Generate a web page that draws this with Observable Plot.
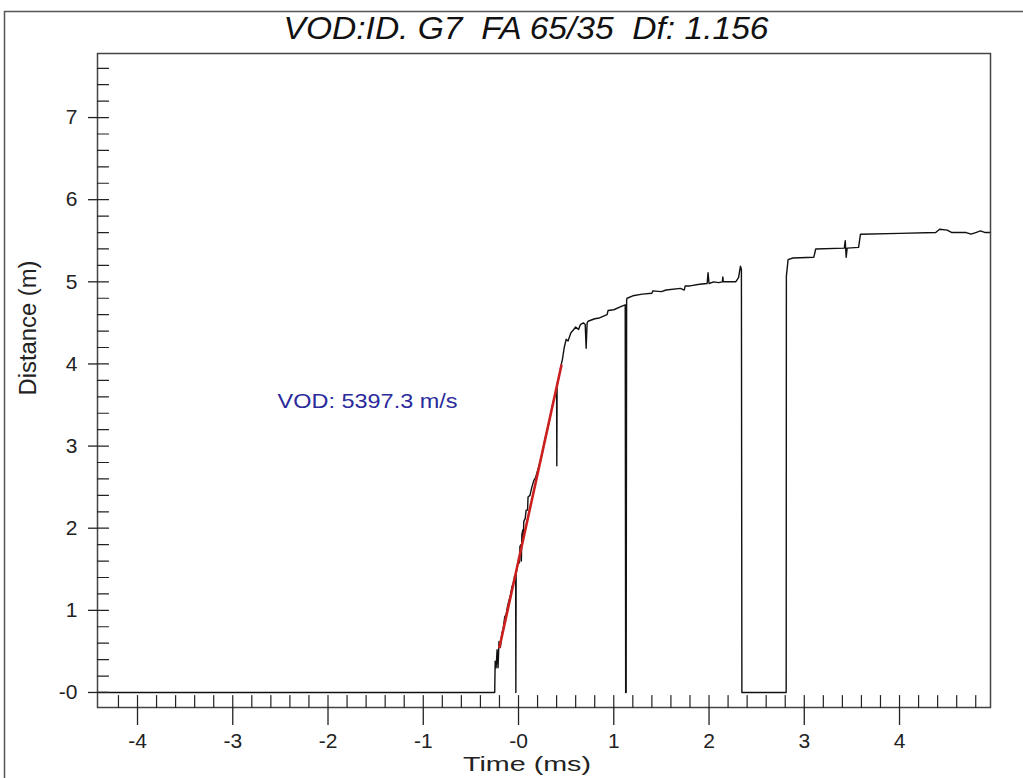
<!DOCTYPE html>
<html><head><meta charset="utf-8">
<script src="https://cdn.jsdelivr.net/npm/d3@7"></script>
<script src="https://cdn.jsdelivr.net/npm/@observablehq/plot@0.6"></script>
<style>
body{margin:0;background:#fff}
svg text{white-space:pre}
</style>
</head><body><div id="chart"></div>
<script>
// ---- texts ----
const titleText = "VOD:ID. G7  FA 65/35  Df: 1.156";
const xLabel = "Time (ms)";
const yLabel = "Distance (m)";

// ---- axes ----
const xDomain = [-4.42, 4.955];
const yDomain = [-0.183, 7.78];
const xMajor = [-4, -3, -2, -1, 0, 1, 2, 3, 4];
const yMajor = [0, 1, 2, 3, 4, 5, 6, 7];
const xMinor = d3.range(-42, 49, 2).map(d => d / 10);
const yMinor = d3.range(0, 77, 2).map(d => d / 10);

// ---- measured trace (time in ms, distance in m) ----
const traceTime = [
  -4.42, -0.25, -0.245, -0.235, -0.225, -0.215, -0.205, -0.19, -0.175, -0.16,
  -0.145, -0.13, -0.115, -0.10, -0.085, -0.07, -0.055, -0.04, -0.03, -0.028,
  -0.025, -0.01, 0.0, 0.01, 0.015, 0.025, 0.03, 0.035, 0.045, 0.05,
  0.055, 0.07, 0.08, 0.095, 0.10, 0.12, 0.14, 0.16, 0.18, 0.20,
  0.22, 0.25, 0.28, 0.30, 0.33, 0.36, 0.39, 0.40, 0.402, 0.405,
  0.43, 0.45, 0.46, 0.48, 0.50, 0.52, 0.55, 0.58, 0.60, 0.63,
  0.65, 0.68, 0.70, 0.71, 0.72, 0.73, 0.80, 0.85, 0.93, 0.94,
  1.00, 1.08, 1.12, 1.125, 1.13, 1.135, 1.14, 1.20, 1.30, 1.40,
  1.41, 1.50, 1.55, 1.70, 1.74, 1.75, 1.80, 1.90, 1.98, 1.99,
  2.00, 2.05, 2.10, 2.14, 2.145, 2.15, 2.20, 2.28, 2.31, 2.33,
  2.34, 2.345, 2.81, 2.812, 2.83, 2.88, 3.10, 3.12, 3.42, 3.43,
  3.44, 3.45, 3.57, 3.59, 4.00, 4.38, 4.42, 4.50, 4.55, 4.70,
  4.75, 4.80, 4.85, 4.90, 4.955
];
const traceDist = [
  0.0, 0.0, 0.38, 0.30, 0.52, 0.30, 0.62, 0.55, 0.72, 0.78,
  0.92, 0.95, 1.05, 1.12, 1.18, 1.28, 1.33, 1.42, 1.40, 0.0,
  1.45, 1.55, 1.62, 1.58, 1.78, 1.80, 1.60, 1.92, 1.98, 1.85,
  2.08, 2.12, 2.22, 2.22, 2.38, 2.40, 2.50, 2.58, 2.62, 2.70,
  2.78, 2.92, 3.10, 3.18, 3.35, 3.52, 3.65, 3.70, 2.76, 3.74,
  3.88, 4.00, 4.05, 4.20, 4.30, 4.28, 4.38, 4.42, 4.45, 4.42,
  4.48, 4.50, 4.48, 4.19, 4.50, 4.52, 4.55, 4.56, 4.60, 4.65,
  4.66, 4.70, 4.72, 0.0, 0.0, 4.78, 4.80, 4.83, 4.85, 4.86,
  4.89, 4.88, 4.90, 4.92, 4.90, 4.95, 4.95, 4.97, 4.98, 5.11,
  4.98, 5.00, 4.99, 5.00, 5.06, 5.00, 5.00, 5.00, 5.05, 5.19,
  5.15, 0.0, 0.0, 5.07, 5.27, 5.29, 5.30, 5.40, 5.41, 5.50,
  5.30, 5.41, 5.42, 5.58, 5.59, 5.60, 5.64, 5.63, 5.60, 5.60,
  5.58, 5.60, 5.62, 5.60, 5.60
];

// ---- VOD fit line ----
const fitTime = [-0.20, 0.45];
const fitDist = [0.55, 3.98];

// ---- annotation ----
const annotText = ["VOD: 5397.3 m/s"];
const annotTime = [-2.53];
const annotDist = [3.55];

const trace = traceTime.map((t, i) => ({t, d: traceDist[i]}));
const fit = fitTime.map((t, i) => ({t, d: fitDist[i]}));
const annot = annotText.map((s, i) => ({s, t: annotTime[i], d: annotDist[i]}));

const tickUp = {draw(ctx, l) { ctx.moveTo(0, 0); ctx.lineTo(0, -l); }};
const fmt = d => d === 0 ? "-0" : String(d);
const ink = "#222";

const chart = Plot.plot({
  width: 1023,
  height: 778,
  marginLeft: 97,
  marginRight: 33,
  marginTop: 53,
  marginBottom: 71,
  style: {fontFamily: "'Liberation Sans', Arial, sans-serif", fontSize: "21px", background: "#fff", color: ink},
  x: {domain: xDomain, axis: null},
  y: {domain: yDomain, axis: null},
  marks: [
    Plot.line(trace, {x: "t", y: "d", stroke: "#111", strokeWidth: 1.4}),
    Plot.line(fit, {x: "t", y: "d", stroke: "#cc2020", strokeWidth: 2.6}),
    Plot.text(annot, {x: "t", y: "d", text: "s", textAnchor: "start", fill: "#2b2b9c", fontSize: 21}),
    Plot.frame({stroke: "#444", strokeWidth: 1.5}),
    // inward ticks
    Plot.vector(xMinor, {x: d => d, frameAnchor: "bottom", length: 12, anchor: "start", shape: tickUp, stroke: ink, strokeWidth: 1.2}),
    Plot.vector(yMinor, {y: d => d, frameAnchor: "left", length: 11, rotate: 90, anchor: "start", shape: tickUp, stroke: ink, strokeWidth: 1.2}),
    // outward ticks + labels
    Plot.axisX({ticks: xMajor, tickSize: 18, tickPadding: 8, tickFormat: fmt, fontSize: 21, label: null, stroke: ink, strokeWidth: 1.3, fill: ink}),
    Plot.axisY({ticks: yMajor, tickSize: 9, tickPadding: 11, tickFormat: fmt, fontSize: 21, label: null, stroke: ink, strokeWidth: 1.3, fill: ink}),
    // titles
    Plot.text([titleText], {text: d => d, frameAnchor: "top", lineAnchor: "middle", dx: -18, dy: -24, fontSize: 31, fontStyle: "italic", fill: "#111"}),
    Plot.text([xLabel], {text: d => d, frameAnchor: "bottom", lineAnchor: "middle", dx: -17, dy: 57, fontSize: 21, fill: ink}),
    Plot.text([yLabel], {text: d => d, frameAnchor: "left", lineAnchor: "middle", rotate: -90, dx: -69, dy: 15, fontSize: 23, fill: ink})
  ]
});

document.getElementById("chart").appendChild(chart);

const svg = d3.select(chart);
// stretch texts to the widths measured on the reference
const widths = {[titleText]: 485, [annotText[0]]: 180, [xLabel]: 128, [yLabel]: 135};
svg.selectAll("text").each(function() {
  const s = this.textContent;
  if (widths[s]) d3.select(this).attr("textLength", widths[s]).attr("lengthAdjust", "spacingAndGlyphs");
});
// outer panel border
svg.insert("rect", ":first-child").attr("x", 4.5).attr("y", 11.5).attr("width", 1100).attr("height", 900)
  .attr("fill", "none").attr("stroke", "#555").attr("stroke-width", 1.5);
</script></body></html>
